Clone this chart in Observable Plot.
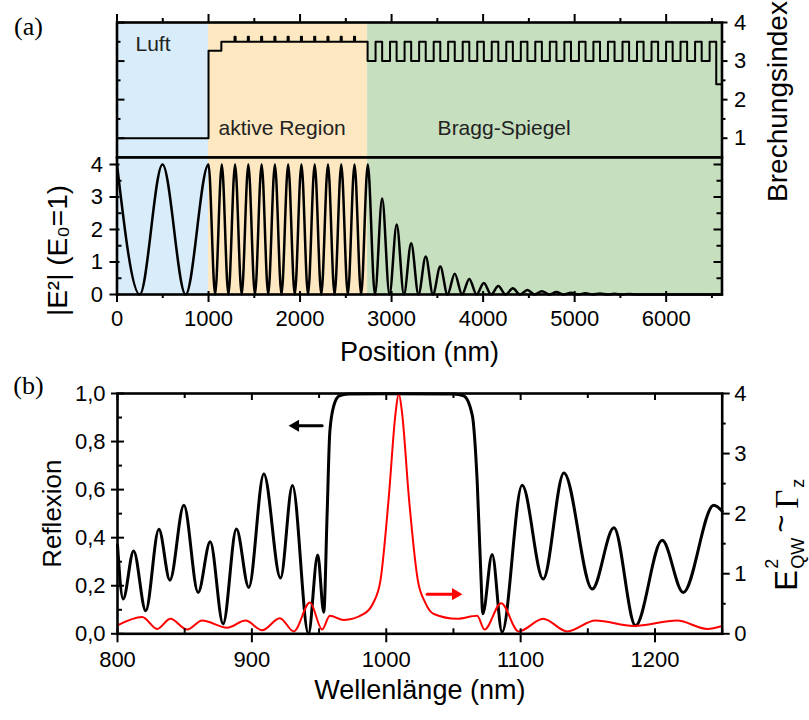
<!DOCTYPE html>
<html><head><meta charset="utf-8">
<script src="https://cdn.jsdelivr.net/npm/d3@7"></script>
<script src="https://cdn.jsdelivr.net/npm/@observablehq/plot@0.6"></script>
<style>
body{margin:0;background:#fff;}
#wrap{position:relative;width:809px;height:720px;background:#fff;}
#wrap svg{position:absolute;left:0;top:0;background:transparent !important;}
</style></head><body><div id="wrap"></div>
<script>
// ---------- data: panel (a) ----------
const regions = ["Luft", "aktive Region", "Bragg-Spiegel"];
const regionStart = [0, 1000, 2738];
const regionEnd = [1000, 2738, 6610];
const regionColor = ["#d8edf9", "#fde8c1", "#c6dfbe"];

// refractive index profile (position in nm where a layer starts, index of that layer)
const indexPos = [0, 1000, 1140,
  1284, 1296, 1429, 1441, 1574, 1586, 1719, 1731, 1864, 1876,
  2009, 2021, 2154, 2166, 2299, 2311, 2444, 2456, 2589, 2601,
  2738, 2825, 2897, 2983, 3055, 3142, 3214, 3301, 3373, 3460,
  3532, 3618, 3690, 3777, 3849, 3936, 4008, 4094, 4166, 4253,
  4325, 4412, 4484, 4570, 4642, 4729, 4801, 4888, 4960, 5047,
  5119, 5205, 5277, 5364, 5436, 5523, 5595, 5681, 5753, 5840,
  5912, 5999, 6071, 6157, 6229, 6316, 6388, 6475,
  6547, 6610];
const indexVal = [1.0, 3.27, 3.5,
  3.63, 3.5, 3.63, 3.5, 3.63, 3.5, 3.63, 3.5, 3.63, 3.5,
  3.63, 3.5, 3.63, 3.5, 3.63, 3.5, 3.63, 3.5, 3.63, 3.5,
  3.0, 3.5, 3.0, 3.5, 3.0, 3.5, 3.0, 3.5, 3.0, 3.5,
  3.0, 3.5, 3.0, 3.5, 3.0, 3.5, 3.0, 3.5, 3.0, 3.5,
  3.0, 3.5, 3.0, 3.5, 3.0, 3.5, 3.0, 3.5, 3.0, 3.5,
  3.0, 3.5, 3.0, 3.5, 3.0, 3.5, 3.0, 3.5, 3.0, 3.5,
  3.0, 3.5, 3.0, 3.5, 3.0, 3.5, 3.0, 3.5,
  2.4, 2.4];

// |E|^2 standing wave: extrema
const fieldPos = [0, 248, 497, 750, 1000,
  1072, 1145, 1217, 1290, 1362, 1435, 1507, 1580, 1652, 1725, 1797, 1870, 1942, 2015,
  2087, 2160, 2232, 2305, 2377, 2450, 2522, 2595, 2667, 2740,
  2818, 2897, 2977, 3056, 3135, 3214, 3294, 3373, 3452, 3532, 3611, 3690, 3770, 3849,
  3928, 4008, 4087, 4166, 4246, 4325, 4404, 4484, 4563, 4642, 4722, 4801, 4880, 4960,
  5039, 5119, 5198, 5277, 5357, 5436, 5515, 5595, 5674, 6610];
const fieldVal = [4, 0, 4, 0, 4,
  0, 4, 0, 4, 0, 4, 0, 4, 0, 4, 0, 4, 0, 4,
  0, 4, 0, 4, 0, 4, 0, 4, 0, 4,
  0, 2.95, 0, 2.15, 0, 1.58, 0, 1.17, 0, 0.86, 0, 0.64, 0, 0.48,
  0, 0.35, 0, 0.26, 0, 0.19, 0, 0.14, 0, 0.10, 0, 0.075, 0, 0.055,
  0, 0.04, 0, 0.03, 0, 0.02, 0, 0.015, 0, 0];

const posTicks = [0, 1000, 2000, 3000, 4000, 5000, 6000];
const posMinor = [500, 1500, 2500, 3500, 4500, 5500, 6500];
const indexTicks = [1, 2, 3, 4];
const indexMinor = [1.5, 2.5, 3.5];
const fieldTicks = [0, 1, 2, 3, 4];
const fieldMinor = [0.5, 1.5, 2.5, 3.5];

// ---------- data: panel (b) ----------
const reflWl = [800, 804.2, 812, 821, 830.8, 839, 849.4, 860, 869, 878.6, 888.5, 897.7,
  908.9, 921.3, 930.2, 942.1, 949, 953.5, 956, 958, 961, 965, 972, 1000, 1050,
  1057.7, 1064, 1067.7, 1070.6, 1071.8, 1078.8, 1086.2, 1101.1, 1116.8, 1132.2,
  1153.3, 1169.4, 1185.5, 1205.3, 1221, 1243.7, 1250];
const reflVal = [0.37, 0.145, 0.345, 0.096, 0.435, 0.223, 0.535, 0.172, 0.383, 0.041, 0.436, 0.193,
  0.665, 0.232, 0.617, 0.0, 0.328, 0.09, 0.50, 0.84, 0.95, 0.99, 0.998, 0.999, 0.998,
  0.99, 0.91, 0.63, 0.22, 0.083, 0.33, 0.007, 0.618, 0.228, 0.669,
  0.186, 0.441, 0.034, 0.389, 0.172, 0.535, 0.51];

const qwWl = [800, 818.4, 829.5, 839.4, 851.9, 863, 881.6, 895.3, 907.7, 920.8, 931.2,
  943.2, 952.3, 958, 968.4, 983.3, 990, 995.7, 1001.9, 1006.9, 1009.3, 1011.8, 1016.8,
  1023.5, 1029, 1035.4, 1052.8, 1067.7, 1073.1, 1085.5, 1098.5, 1116.8, 1134.7, 1155.7,
  1184.2, 1216.5, 1238.8, 1250];
const qwVal = [0.14, 0.28, 0.08, 0.25, 0.07, 0.22, 0.10, 0.22, 0.06, 0.26, 0.04,
  0.52, 0.07, 0.30, 0.23, 0.33, 0.50, 0.89, 2.28, 3.67, 4.0, 3.67, 2.28,
  0.89, 0.52, 0.33, 0.25, 0.30, 0.07, 0.51, 0.04, 0.25, 0.04, 0.22,
  0.13, 0.22, 0.08, 0.13];

const wlTicks = [800, 900, 1000, 1100, 1200];
const wlMinor = [850, 950, 1050, 1150, 1250];
const reflTicks = [0, 0.2, 0.4, 0.6, 0.8, 1.0];
const reflLabels = ["0,0", "0,2", "0,4", "0,6", "0,8", "1,0"];
const reflMinor = [0.1, 0.3, 0.5, 0.7, 0.9];
const qwTicks = [0, 1, 2, 3, 4];
const qwMinor = [0.5, 1.5, 2.5, 3.5];

// ---------- helpers ----------
const W = 809, H = 720;
const font = "'Liberation Sans', Arial, Helvetica, sans-serif";
const serif = "'Liberation Serif', 'Times New Roman', serif";
const regionIdx = [0, 1, 2];
function side(s, values, out, inn, fw, fh, map = d => d, sw = 2) {
  const o = {stroke: "black", strokeWidth: sw};
  if (s === "top") return Plot.tickX(values, {x: map, insetTop: -out, insetBottom: fh - inn, ...o});
  if (s === "bottom") return Plot.tickX(values, {x: map, insetTop: fh - inn, insetBottom: -out, ...o});
  if (s === "left") return Plot.tickY(values, {y: map, insetLeft: -out, insetRight: fw - inn, ...o});
  return Plot.tickY(values, {y: map, insetLeft: fw - inn, insetRight: -out, ...o});
}
const baseStyle = {background: "transparent", fontFamily: font, overflow: "visible", color: "black"};
const mid = {textAnchor: "middle", lineAnchor: "middle"};

// ---------- panel (a) top: refractive index ----------
const fwA = 605, fhA1 = 135, fhA2 = 137;
const indexData = indexPos.map((p, i) => ({x: p, n: indexVal[i]}));
const fieldData = fieldPos.map((p, i) => ({x: p, e: fieldVal[i]}));
const labelX = [202, 1109, 3503], labelY = [3.43, 1.25, 1.25];

const a1 = Plot.plot({
  width: W, height: H,
  marginLeft: 116.5, marginRight: 87.5, marginTop: 22, marginBottom: 563,
  x: {domain: [0, 6610], axis: null},
  y: {domain: [0.5, 4], axis: null},
  color: {type: "identity"},
  style: baseStyle,
  marks: [
    Plot.rect(regionIdx, {x1: i => regionStart[i], x2: i => regionEnd[i], fill: i => regionColor[i]}),
    Plot.line(indexData, {x: "x", y: "n", curve: "step-after", stroke: "black", strokeWidth: 2}),
    side("top", posTicks, 8, 0, fwA, fhA1),
    side("top", posMinor, 4, 0, fwA, fhA1),
    side("left", indexTicks, 0, 8, fwA, fhA1),
    side("left", indexMinor, 0, 4, fwA, fhA1),
    side("right", indexTicks, 6, 0, fwA, fhA1),
    side("right", indexMinor, 4, 0, fwA, fhA1),
    Plot.frame({stroke: "black", strokeWidth: 2.6}),
    Plot.text(indexTicks, {y: d => d, text: d => String(d), frameAnchor: "right", dx: 12, textAnchor: "start", lineAnchor: "middle", fontSize: 22}),
    Plot.text(regionIdx, {x: i => labelX[i], y: i => labelY[i], text: i => regions[i], textAnchor: "start", lineAnchor: "middle", fontSize: 21, fill: "#222"}),
    Plot.text(["Brechungsindex"], {text: d => d, frameAnchor: "right", rotate: -90, dx: 56.5, dy: 11.5, fontSize: 28, ...mid}),
    Plot.text(["(a)"], {text: d => d, frameAnchor: "top-left", dx: -88.5, dy: 4, fontSize: 26, fontFamily: serif, ...mid})
  ]
});

// ---------- panel (a) bottom: field ----------
const a2 = Plot.plot({
  width: W, height: H,
  marginLeft: 116.5, marginRight: 87.5, marginTop: 157, marginBottom: 426,
  x: {domain: [0, 6610], axis: null},
  y: {domain: [0, 4.215], axis: null},
  color: {type: "identity"},
  style: baseStyle,
  marks: [
    Plot.rect(regionIdx, {x1: i => regionStart[i], x2: i => regionEnd[i], fill: i => regionColor[i]}),
    Plot.line(fieldData, {x: "x", y: "e", curve: "monotone-x", stroke: "black", strokeWidth: 2.5}),
    side("bottom", posTicks, 8, 3, fwA, fhA2),
    side("bottom", posMinor, 4, 0, fwA, fhA2),
    side("left", fieldTicks, 7, 3, fwA, fhA2),
    side("left", fieldMinor, 0, 5, fwA, fhA2),
    side("right", fieldTicks, 0, 8, fwA, fhA2),
    side("right", fieldMinor, 0, 5, fwA, fhA2),
    Plot.frame({stroke: "black", strokeWidth: 2.6}),
    Plot.text(posTicks, {x: d => d, text: d => String(d), frameAnchor: "bottom", dy: 24, fontSize: 22, ...mid}),
    Plot.text(fieldTicks, {y: d => d, text: d => String(d), frameAnchor: "left", dx: -14, textAnchor: "end", lineAnchor: "middle", fontSize: 22}),
    Plot.text(["Position (nm)"], {text: d => d, frameAnchor: "bottom", dy: 58, fontSize: 27, ...mid}),
    Plot.text(["|E²| (E₀=1)"], {text: d => d, frameAnchor: "left", rotate: -90, dx: -58.5, dy: 24.5, fontSize: 28, ...mid})
  ]
});

// ---------- panel (b): reflectance & QW field ----------
const fwB = 604.7, fhB = 240.3;
const reflData = reflWl.map((w, i) => ({w, r: reflVal[i]}));
const qwData = qwWl.map((w, i) => ({w, v: qwVal[i]}));
const arrowBlack = [{w: 952.3, r: 0.866}, {w: 934, r: 0.866}];
const arrowRed = [{w: 1030.4, v: 0.66}, {w: 1050, v: 0.66}];

const b = Plot.plot({
  width: W, height: H,
  marginLeft: 117, marginRight: 87.3, marginTop: 393, marginBottom: 86.7,
  x: {domain: [800, 1250], axis: null},
  y: {domain: [0, 1], axis: null},
  style: baseStyle,
  marks: [
    Plot.line(reflData, {x: "w", y: "r", curve: "monotone-x", stroke: "black", strokeWidth: 3}),
    Plot.line(qwData, {x: "w", y: d => d.v / 4, curve: "monotone-x", stroke: "#ff0000", strokeWidth: 2}),
    Plot.line(arrowBlack, {x: "w", y: "r", stroke: "black", strokeWidth: 3}),
    Plot.dot([arrowBlack[1]], {x: d => d.w - 1.5, y: "r", symbol: "triangle", r: 4.5, fill: "black", rotate: -90}),
    Plot.line(arrowRed, {x: "w", y: d => d.v / 4, stroke: "#ff0000", strokeWidth: 3}),
    Plot.dot([arrowRed[1]], {x: d => d.w + 1.5, y: d => d.v / 4, symbol: "triangle", r: 4.5, fill: "#ff0000", rotate: 90}),
    side("top", wlTicks, 0, 7, fwB, fhB),
    side("top", wlMinor, 0, 5, fwB, fhB),
    side("bottom", wlTicks, 9, 5, fwB, fhB),
    side("bottom", wlMinor, 0, 5, fwB, fhB),
    side("left", reflTicks, 6, 7, fwB, fhB),
    side("left", reflMinor, 0, 5, fwB, fhB),
    side("right", qwTicks, 8, 0, fwB, fhB, d => d / 4),
    side("right", qwMinor, 4, 0, fwB, fhB, d => d / 4),
    Plot.frame({stroke: "black", strokeWidth: 2.6}),
    Plot.text(wlTicks, {x: d => d, text: d => String(d), frameAnchor: "bottom", dy: 26, fontSize: 22, ...mid}),
    Plot.text(reflTicks, {y: d => d, text: (d, i) => reflLabels[i], frameAnchor: "left", dx: -12, textAnchor: "end", lineAnchor: "middle", fontSize: 22}),
    Plot.text(qwTicks, {y: d => d / 4, text: d => String(d), frameAnchor: "right", dx: 12, textAnchor: "start", lineAnchor: "middle", fontSize: 22}),
    Plot.text(["Wellenlänge (nm)"], {text: d => d, frameAnchor: "bottom", dy: 57, fontSize: 27, ...mid}),
    Plot.text(["Reflexion"], {text: d => d, frameAnchor: "left", rotate: -90, dx: -65, dy: 0, fontSize: 26, ...mid}),
    Plot.text(["(b)"], {text: d => d, frameAnchor: "top-left", dx: -89, dy: -8, fontSize: 26, fontFamily: serif, ...mid}),
    // right axis title: E²_QW ~ Γ_z, built from pieces
    Plot.text(["E"], {text: d => d, frameAnchor: "right", rotate: -90, textAnchor: "start", lineAnchor: "middle", dx: 65, dy: 77, fontSize: 31}),
    Plot.text(["2"], {text: d => d, frameAnchor: "right", rotate: -90, textAnchor: "start", lineAnchor: "middle", dx: 50, dy: 55, fontSize: 18}),
    Plot.text(["QW"], {text: d => d, frameAnchor: "right", rotate: -90, textAnchor: "start", lineAnchor: "middle", dx: 76, dy: 55, fontSize: 18}),
    Plot.text(["~"], {text: d => d, frameAnchor: "right", rotate: -90, textAnchor: "start", lineAnchor: "middle", dx: 60, dy: 19, fontSize: 31}),
    Plot.text(["Γ"], {text: d => d, frameAnchor: "right", rotate: -90, textAnchor: "start", lineAnchor: "middle", dx: 65, dy: -5, fontSize: 33, fontFamily: serif}),
    Plot.text(["z"], {text: d => d, frameAnchor: "right", rotate: -90, textAnchor: "start", lineAnchor: "middle", dx: 76, dy: -26, fontSize: 18})
  ]
});

const wrap = document.getElementById("wrap");
wrap.append(a1, a2, b);
</script></body></html>
